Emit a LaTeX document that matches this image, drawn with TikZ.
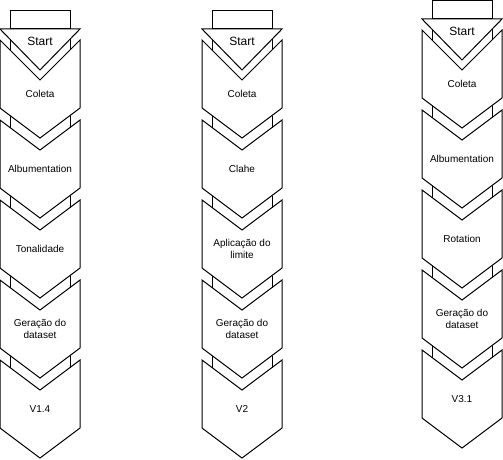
\documentclass[tikz,border=0pt]{standalone}
\usepackage{fontspec}
\setmainfont{Liberation Sans}
\tikzset{
  stepline/.style={line width=0.75pt, line join=miter},
  steplabel/.style={font=\fontsize{7.5}{9}\selectfont, align=center, inner sep=0pt},
  startlabel/.style={font=\fontsize{9}{10}\selectfont, inner sep=0pt},
}
\begin{document}
\begin{tikzpicture}[x=0.75pt, y=-0.75pt]
  \useasboundingbox (0,0) rectangle (503,460);

  % three pipelines: x offset / y shift / name / labels
  \foreach \cx/\cy/\cn/\la/\lb/\lc/\ld/\le in {
      0/0/a/Coleta/Albumentation/Tonalidade/{Geração do\\dataset}/V1.4,
      202/0/b/Coleta/Clahe/{Aplicação do\\limite}/{Geração do\\dataset}/V2,
      422/-10/c/Coleta/Albumentation/Rotation/{Geração do\\dataset}/V3.1} {
    \begin{scope}[shift={(\cx,\cy)}]
      % start block
      \draw[stepline] (10,11) rectangle (70,29);
      \draw[stepline] (0,29) -- (80,29) -- (40,70) -- cycle;
      \node[startlabel] (start-\cn) at (40,41) {Start};

      % first step
      \draw[stepline] (0,40) -- (40,80) -- (80,40) -- (80,108) -- (40,138) -- (0,108) -- cycle;
      \draw[stepline] (10,39) -- (10,50) (70,39) -- (70,50);

      % following steps
      \foreach \k in {1,...,4} {
        \pgfmathsetmacro\yy{108+80*(\k-1)}
        \draw[stepline] (0,\yy+12) -- (40,\yy+42) -- (80,\yy+12)
          -- (80,\yy+80) -- (40,\yy+110) -- (0,\yy+80) -- cycle;
        \draw[stepline] (10,\yy+7.5) -- (10,\yy+19.5) (70,\yy+7.5) -- (70,\yy+19.5);
      }

      % labels
      \node[steplabel] (s1-\cn) at (40,94) {\la};
      \node[steplabel] (s2-\cn) at (40,169) {\lb};
      \node[steplabel] (s3-\cn) at (40,249) {\lc};
      \node[steplabel] (s4-\cn) at (40,329) {\ld};
      \node[steplabel] (s5-\cn) at (40,409) {\le};
    \end{scope}
  }
\end{tikzpicture}
\end{document}
